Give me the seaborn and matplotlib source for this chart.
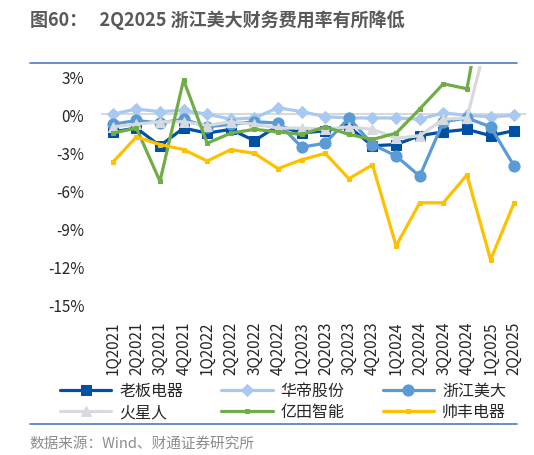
import numpy as np
import pandas as pd
import matplotlib
matplotlib.use("Agg")
import matplotlib.pyplot as plt
from matplotlib.lines import Line2D
import seaborn as sns

quarters = ["1Q2021", "2Q2021", "3Q2021", "4Q2021", "1Q2022", "2Q2022", "3Q2022", "4Q2022",
            "1Q2023", "2Q2023", "3Q2023", "4Q2023", "1Q2024", "2Q2024", "3Q2024", "4Q2024",
            "1Q2025", "2Q2025"]
laoban = [-1.4, -1.1, -2.5, -1.1, -1.5, -1.2, -2.1, -0.9, -1.5, -1.3, -1.0, -2.5, -2.4, -1.7, -1.4, -1.2, -1.7, -1.3]
huadi = [0.0, 0.4, 0.2, 0.3, 0.0, -0.4, -0.3, 0.5, 0.2, -0.2, -0.3, -0.3, -0.3, -0.4, 0.1, -0.1, -0.2, -0.1]
meida = [-0.8, -0.5, -0.7, -0.4, -1.0, -0.8, -0.6, -0.7, -2.6, -2.3, -0.3, -2.4, -3.3, -4.9, -0.6, -0.3, -1.0, -4.1]
huoxingren = [-1.0, -0.8, -0.6, -0.6, -0.9, -0.6, -0.8, -1.1, -1.1, -1.2, -1.0, -1.2, -1.9, -1.7, -0.4, -0.3, 7.0, np.nan]
yitian = [-1.5, -1.1, -5.3, 2.7, -2.3, -1.5, -1.2, -1.4, -1.6, -1.0, -1.6, -2.0, -1.5, 0.4, 2.4, 2.0, 12.0, np.nan]
shuaifeng = [-3.8, -1.8, -2.4, -2.8, -3.7, -2.8, -3.1, -4.3, -3.6, -3.1, -5.1, -4.0, -10.4, -7.0, -7.0, -4.8, -11.5, -7.0]

series_names = ["老板电器", "华帝股份", "浙江美大", "火星人", "亿田智能", "帅丰电器"]
series_vals = [laoban, huadi, meida, huoxingren, yitian, shuaifeng]
yticks = [3, 0, -3, -6, -9, -12, -15]

colors = ["#0050A4", "#A9C9F1", "#5B9BD5", "#D6D9DD", "#70AD47", "#FFC000"]
markers = ["s", "D", "o", "^", "s", "s"]
msizes = [7.5, 6.5, 8, 7, 3.5, 3.5]

df = pd.concat([pd.DataFrame({"季度": quarters, "值": v, "公司": n})
                for n, v in zip(series_names, series_vals)], ignore_index=True)

sns.set_theme(style="white")
plt.rcParams["font.family"] = ["Noto Sans CJK SC", "DejaVu Sans"]
plt.rcParams["axes.unicode_minus"] = False

fig = plt.figure(figsize=(5.34, 4.56), dpi=100)
ax = fig.add_axes([0.189, 0.331, 0.796, 0.522])

ax.axhline(0, color="#D9D9D9", lw=1.5, zorder=0)

for i, (n, c) in enumerate(zip(series_names, colors)):
    sub = df[df["公司"] == n]
    sns.lineplot(data=sub, x="季度", y="值", ax=ax, color=c, lw=2.3,
                 marker=markers[i], markersize=msizes[i], markeredgecolor=c,
                 markerfacecolor=c, label=n, sort=False, zorder=2 + i)

ax.set_ylim(-15, 3.8)
ax.set_xlim(-0.5, len(quarters) - 0.5)
ax.set_yticks(yticks)
ax.set_yticklabels([f"{t}%" for t in yticks])
ax.set_xticks(range(len(quarters)))
ax.set_xticklabels(quarters, rotation=90)
ax.tick_params(axis="both", length=0, labelsize=11, colors="#262626")
ax.tick_params(axis="x", pad=12)
ax.tick_params(axis="y", pad=12)
ax.set_xlabel("")
ax.set_ylabel("")
for s in ax.spines.values():
    s.set_visible(False)

handles, labels = ax.get_legend_handles_labels()
ax.get_legend().remove()
order = [0, 3, 1, 4, 2, 5]
fig.legend([handles[k] for k in order], [labels[k] for k in order],
           ncol=3, loc="center", bbox_to_anchor=(0.53, 0.118), frameon=False,
           fontsize=11.5, handlelength=3.2, columnspacing=2.4, handletextpad=0.5,
           labelspacing=0.25)

fig.text(0.056, 0.955, "图60：   2Q2025 浙江美大财务费用率有所降低", fontsize=13,
         color="#595959", fontweight="bold", va="center", ha="left")
fig.add_artist(Line2D([0.056, 0.968], [0.860, 0.860], color="#4A7EC0", lw=1.2))
fig.add_artist(Line2D([0.056, 0.968], [0.068, 0.068], color="#4A7EC0", lw=1.2))
fig.text(0.056, 0.027, "数据来源：Wind、财通证券研究所", fontsize=10.5,
         color="#8C8C8C", va="center", ha="left")

fig.savefig("out.png", dpi=100)
